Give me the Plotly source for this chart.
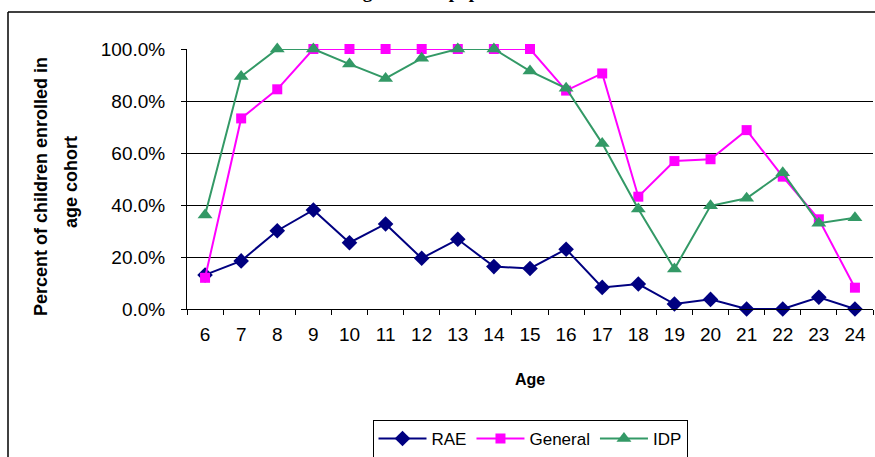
import plotly.graph_objects as go

ages = [str(a) for a in range(6, 25)]
rae = [13.1, 18.5, 30.1, 38.1, 25.5, 32.7, 19.5, 26.8, 16.3, 15.6, 23.0, 8.3, 9.6, 1.9, 3.7, 0.0, 0.0, 4.5, 0.0]
general = [12.0, 73.3, 84.5, 100, 100, 100, 100, 100, 100, 100, 84.0, 90.6, 43.2, 56.9, 57.6, 68.8, 50.9, 34.5, 8.2]
idp = [36.2, 89.4, 100, 100, 94.2, 88.7, 96.4, 100, 100, 91.5, 84.9, 63.7, 38.5, 15.4, 39.7, 42.6, 52.4, 33.0, 35.1]
yticks = [0, 20, 40, 60, 80, 100]

W, H = 875, 457
L, R, T, B = 187, 873, 49, 309


def px(x):
    return (x - L) / (R - L)


def py(y):
    return (B - y) / (B - T)


fig = go.Figure()
fig.add_trace(go.Scatter(x=ages, y=[v / 100 for v in rae], name="RAE", mode="lines+markers",
                         line=dict(color="#000080", width=2),
                         marker=dict(symbol="diamond", size=12, color="#000080"), cliponaxis=False))
fig.add_trace(go.Scatter(x=ages, y=[v / 100 for v in general], name="General", mode="lines+markers",
                         line=dict(color="#FF00FF", width=2),
                         marker=dict(symbol="square", size=10, color="#FF00FF"), cliponaxis=False))
fig.add_trace(go.Scatter(x=ages, y=[v / 100 for v in idp], name="IDP", mode="lines+markers",
                         line=dict(color="#339966", width=2),
                         marker=dict(symbol="triangle-up", size=13, color="#339966"), cliponaxis=False))

ytitle_font = dict(family="Liberation Sans, Arial", size=18, color="black")

fig.update_layout(
    width=W, height=H,
    margin=dict(l=L, r=W - R, t=T, b=H - B, autoexpand=False),
    paper_bgcolor="white", plot_bgcolor="white",
    font=dict(family="Liberation Sans, Arial", color="black"),
    showlegend=True,
    legend=dict(orientation="h", x=px(530), xanchor="center", y=py(420), yanchor="top",
                bordercolor="black", borderwidth=1, font=dict(size=17),
                itemwidth=48, tracegroupgap=0),
    xaxis=dict(type="category", range=[-0.5, 18.5], tickson="boundaries", ticks="outside", ticklen=5,
               tickcolor="black", showline=True, linecolor="black", linewidth=1, showgrid=False,
               tickfont=dict(size=19), ticklabelstandoff=8,
               title=dict(text="<b>Age</b>", font=dict(size=16), standoff=30)),
    yaxis=dict(range=[0, 1], tickvals=[v / 100 for v in yticks], tickformat=".1%", ticks="outside",
               ticklen=5, tickcolor="black", showline=True, linecolor="black", linewidth=1,
               showgrid=True, gridcolor="black", gridwidth=1, tickfont=dict(size=19),
               ticklabelstandoff=12, zeroline=False),
    shapes=[
        dict(type="line", xref="paper", yref="paper", x0=px(8), x1=px(880), y0=py(12), y1=py(12),
             line=dict(color="black", width=1.5)),
        dict(type="line", xref="paper", yref="paper", x0=px(8), x1=px(8), y0=py(12), y1=py(470),
             line=dict(color="black", width=1.5)),
    ],
    annotations=[
        dict(text="<b>Enrollment among the total population</b>", xref="paper", yref="paper",
             x=px(218), xanchor="left", y=py(-8), yanchor="middle", showarrow=False,
             font=dict(family="Liberation Serif, Times New Roman", size=19, color="black")),
        dict(text="<b>Percent of children enrolled in</b>", xref="paper", yref="paper",
             x=px(41), xanchor="center", y=py(187), yanchor="middle", textangle=-90, showarrow=False,
             font=ytitle_font),
        dict(text="<b>age cohort</b>", xref="paper", yref="paper",
             x=px(71), xanchor="center", y=py(182), yanchor="middle", textangle=-90, showarrow=False,
             font=ytitle_font),
    ],
)

fig.write_html("out.html", config={"displayModeBar": False},
               post_script="document.body.style.margin='0';")
